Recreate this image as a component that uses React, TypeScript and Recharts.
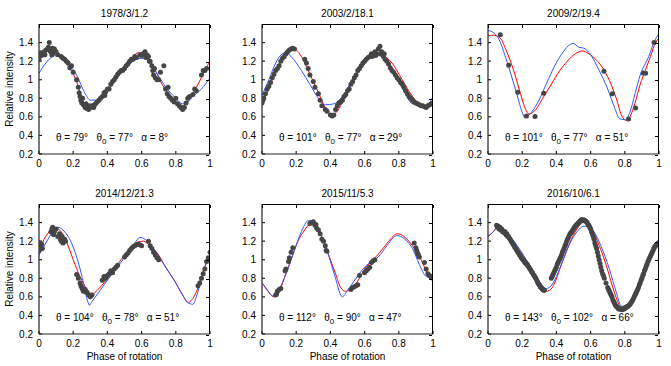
import { ComposedChart, Line, Scatter, XAxis, YAxis } from "recharts";

type Pt = [number, number];

const xTicks = [0, 0.2, 0.4, 0.6, 0.8, 1];
const yTicks = [0.2, 0.4, 0.6, 0.8, 1, 1.2, 1.4];

const titles = ["1978/3/1.2", "2003/2/18.1", "2009/2/19.4", "2014/12/21.3", "2015/11/5.3", "2016/10/6.1"];
const thetas = [79, 101, 101, 104, 112, 143];
const theta0s = [77, 77, 77, 78, 90, 102];
const alphas = [8, 29, 51, 51, 47, 66];

// 1978/3/1.2
const p1Dots: Pt[] = [
  [0.0, 1.22], [0.005, 1.28], [0.01, 1.29], [0.015, 1.26], [0.02, 1.28], [0.03, 1.3], [0.035, 1.27], [0.04, 1.32],
  [0.05, 1.33], [0.055, 1.35], [0.06, 1.4], [0.065, 1.31], [0.07, 1.3], [0.075, 1.27], [0.08, 1.34], [0.085, 1.29],
  [0.09, 1.33], [0.1, 1.3], [0.11, 1.27], [0.13, 1.25], [0.14, 1.23], [0.15, 1.22], [0.16, 1.2], [0.17, 1.18],
  [0.18, 1.13], [0.19, 1.15], [0.2, 1.08], [0.22, 1.0], [0.23, 0.92], [0.235, 0.86], [0.24, 0.82], [0.245, 0.78],
  [0.25, 0.75], [0.255, 0.8], [0.26, 0.73], [0.27, 0.7], [0.275, 0.74], [0.28, 0.69], [0.29, 0.68], [0.295, 0.72],
  [0.3, 0.7], [0.31, 0.72], [0.32, 0.7], [0.325, 0.73], [0.33, 0.74], [0.34, 0.76], [0.35, 0.78], [0.36, 0.8],
  [0.37, 0.82], [0.38, 0.86], [0.385, 0.83], [0.39, 0.87], [0.4, 0.9], [0.41, 0.9], [0.42, 0.95], [0.43, 0.98],
  [0.44, 1.0], [0.45, 1.03], [0.46, 1.06], [0.47, 1.08], [0.48, 1.1], [0.49, 1.1], [0.5, 1.12], [0.51, 1.15],
  [0.52, 1.17], [0.53, 1.2], [0.54, 1.22], [0.55, 1.22], [0.56, 1.25], [0.57, 1.24], [0.59, 1.27], [0.6, 1.26],
  [0.61, 1.28], [0.62, 1.3], [0.625, 1.24], [0.63, 1.27], [0.64, 1.25], [0.645, 1.2], [0.65, 1.2], [0.66, 1.15],
  [0.665, 1.1], [0.67, 1.05], [0.675, 1.12], [0.68, 1.02], [0.69, 1.0], [0.7, 1.0], [0.71, 1.08], [0.73, 1.15],
  [0.74, 0.9], [0.75, 0.85], [0.755, 0.92], [0.76, 0.82], [0.77, 0.8], [0.78, 0.78], [0.79, 0.76], [0.8, 0.8],
  [0.81, 0.74], [0.82, 0.72], [0.83, 0.7], [0.84, 0.68], [0.85, 0.7], [0.86, 0.75], [0.87, 0.8], [0.88, 0.82],
  [0.9, 0.84], [0.91, 0.9], [0.92, 0.88], [0.95, 1.05], [0.96, 1.1], [0.97, 1.1], [0.98, 1.12],
];
const p1Red: Pt[] = [
  [0, 1.24], [0.03, 1.29], [0.07, 1.32], [0.11, 1.28], [0.15, 1.2], [0.19, 1.09], [0.22, 0.98], [0.24, 0.86],
  [0.26, 0.76], [0.28, 0.71], [0.3, 0.69], [0.32, 0.7], [0.35, 0.75], [0.4, 0.9], [0.45, 1.05], [0.5, 1.15],
  [0.55, 1.25], [0.58, 1.29], [0.61, 1.28], [0.64, 1.22], [0.68, 1.1], [0.72, 0.95], [0.78, 0.8], [0.81, 0.74],
  [0.84, 0.72], [0.88, 0.8], [0.93, 0.95], [0.97, 1.1], [1, 1.2],
];
const p1Blue: Pt[] = [
  [0, 1.07], [0.04, 1.18], [0.08, 1.25], [0.1, 1.26], [0.15, 1.2], [0.22, 1.05], [0.27, 0.85], [0.3, 0.78],
  [0.33, 0.78], [0.38, 0.83], [0.43, 0.95], [0.47, 1.05], [0.52, 1.15], [0.57, 1.22], [0.6, 1.23], [0.65, 1.2],
  [0.68, 1.1], [0.73, 0.95], [0.8, 0.8], [0.84, 0.74], [0.87, 0.76], [0.9, 0.82], [0.95, 0.9], [1, 1.02],
];

// 2003/2/18.1
const p2Dots: Pt[] = [
  [0.0, 0.75], [0.005, 0.78], [0.01, 0.8], [0.02, 0.85], [0.03, 0.9], [0.04, 0.93], [0.05, 0.97], [0.06, 1.02],
  [0.07, 1.06], [0.08, 1.1], [0.09, 1.12], [0.1, 1.15], [0.11, 1.2], [0.12, 1.23], [0.13, 1.25], [0.14, 1.28],
  [0.15, 1.3], [0.16, 1.32], [0.17, 1.33], [0.18, 1.34], [0.19, 1.33], [0.25, 1.22], [0.26, 1.18], [0.27, 1.12],
  [0.28, 1.05], [0.3, 0.98], [0.31, 0.92], [0.33, 0.85], [0.34, 0.78], [0.35, 0.72], [0.37, 0.68], [0.38, 0.66],
  [0.4, 0.62], [0.41, 0.61], [0.42, 0.62], [0.43, 0.68], [0.44, 0.72], [0.45, 0.75], [0.46, 0.76], [0.47, 0.78],
  [0.48, 0.82], [0.49, 0.84], [0.5, 0.88], [0.51, 0.9], [0.52, 0.95], [0.53, 0.98], [0.54, 1.02], [0.55, 1.05],
  [0.56, 1.1], [0.57, 1.12], [0.58, 1.15], [0.59, 1.18], [0.6, 1.2], [0.61, 1.22], [0.62, 1.24], [0.63, 1.25],
  [0.64, 1.28], [0.645, 1.25], [0.65, 1.27], [0.66, 1.3], [0.665, 1.26], [0.67, 1.28], [0.68, 1.33], [0.69, 1.36],
  [0.695, 1.28], [0.7, 1.3], [0.71, 1.25], [0.715, 1.28], [0.72, 1.22], [0.73, 1.2], [0.74, 1.17], [0.75, 1.13],
  [0.76, 1.1], [0.77, 1.08], [0.78, 1.05], [0.79, 1.02], [0.8, 1.0], [0.81, 0.97], [0.82, 0.95], [0.83, 0.92],
  [0.84, 0.88], [0.85, 0.85], [0.86, 0.82], [0.87, 0.8], [0.88, 0.78], [0.89, 0.76], [0.9, 0.75], [0.91, 0.74],
  [0.92, 0.73], [0.93, 0.72], [0.94, 0.72], [0.95, 0.71], [0.96, 0.7], [0.97, 0.72], [0.98, 0.73], [0.99, 0.74], [1.0, 0.75],
];
const p2Red: Pt[] = [
  [0, 0.75], [0.04, 0.9], [0.08, 1.1], [0.13, 1.25], [0.17, 1.32], [0.19, 1.33], [0.23, 1.25], [0.27, 1.1],
  [0.32, 0.9], [0.37, 0.7], [0.41, 0.62], [0.44, 0.66], [0.48, 0.8], [0.52, 0.95], [0.57, 1.1], [0.62, 1.22],
  [0.67, 1.28], [0.7, 1.27], [0.76, 1.18], [0.82, 1.0], [0.88, 0.82], [0.93, 0.72], [0.96, 0.7], [1, 0.75],
];
const p2Blue: Pt[] = [
  [0, 0.83], [0.04, 1.0], [0.08, 1.18], [0.12, 1.28], [0.14, 1.29], [0.17, 1.25], [0.23, 1.1], [0.28, 0.95],
  [0.33, 0.8], [0.37, 0.73], [0.42, 0.74], [0.47, 0.82], [0.53, 1.0], [0.59, 1.15], [0.64, 1.25], [0.68, 1.26],
  [0.73, 1.2], [0.78, 1.05], [0.83, 0.88], [0.88, 0.74], [0.93, 0.73], [0.96, 0.72], [1, 0.82],
];

// 2009/2/19.4
const p3Dots: Pt[] = [
  [0.072, 1.485], [0.121, 1.157], [0.174, 0.865], [0.225, 0.609], [0.275, 0.605], [0.326, 0.855], [0.678, 1.092],
  [0.727, 0.85], [0.822, 0.577], [0.863, 0.695], [0.908, 1.073], [0.922, 1.07], [0.971, 1.4],
];
const p3Red: Pt[] = [
  [0, 1.47], [0.03, 1.48], [0.07, 1.45], [0.11, 1.3], [0.15, 1.1], [0.19, 0.85], [0.22, 0.68], [0.24, 0.63],
  [0.28, 0.68], [0.32, 0.8], [0.37, 0.95], [0.42, 1.1], [0.45, 1.17], [0.49, 1.25], [0.53, 1.3], [0.55, 1.31],
  [0.59, 1.28], [0.63, 1.22], [0.68, 1.1], [0.72, 0.95], [0.75, 0.8], [0.78, 0.62], [0.81, 0.56], [0.83, 0.6],
  [0.86, 0.75], [0.89, 0.95], [0.92, 1.1], [0.95, 1.25], [0.98, 1.4], [1, 1.45],
];
const p3Blue: Pt[] = [
  [0, 1.53], [0.02, 1.52], [0.06, 1.45], [0.11, 1.2], [0.16, 0.9], [0.2, 0.65], [0.215, 0.59], [0.24, 0.62],
  [0.29, 0.75], [0.34, 0.95], [0.39, 1.15], [0.44, 1.3], [0.48, 1.38], [0.5, 1.39], [0.53, 1.35], [0.56, 1.34],
  [0.6, 1.27], [0.65, 1.1], [0.7, 0.9], [0.74, 0.7], [0.77, 0.58], [0.8, 0.57], [0.83, 0.65], [0.86, 0.85],
  [0.89, 1.05], [0.94, 1.25], [0.97, 1.4], [1, 1.5],
];

// 2014/12/21.3
const p4Dots: Pt[] = [
  [0.0, 1.1], [0.005, 1.18], [0.01, 1.15], [0.015, 1.17], [0.02, 1.12], [0.07, 1.3], [0.075, 1.33], [0.08, 1.35],
  [0.085, 1.27], [0.09, 1.3], [0.1, 1.33], [0.11, 1.25], [0.12, 1.28], [0.125, 1.22], [0.13, 1.2], [0.135, 1.25],
  [0.14, 1.18], [0.15, 1.22], [0.155, 1.2], [0.22, 0.84], [0.23, 0.8], [0.24, 0.75], [0.245, 0.72], [0.25, 0.7],
  [0.255, 0.68], [0.26, 0.66], [0.27, 0.68], [0.275, 0.65], [0.28, 0.65], [0.29, 0.62], [0.3, 0.6], [0.31, 0.62],
  [0.37, 0.78], [0.38, 0.82], [0.39, 0.8], [0.4, 0.83], [0.41, 0.85], [0.42, 0.88], [0.43, 0.86], [0.44, 0.9],
  [0.45, 0.92], [0.46, 0.94], [0.5, 1.03], [0.51, 1.05], [0.52, 1.07], [0.53, 1.1], [0.54, 1.12], [0.55, 1.14],
  [0.56, 1.15], [0.57, 1.16], [0.58, 1.17], [0.59, 1.16], [0.6, 1.15], [0.64, 1.2], [0.65, 1.15], [0.66, 1.12],
  [0.67, 1.08], [0.68, 1.05], [0.69, 1.02], [0.7, 1.0], [0.93, 0.72], [0.94, 0.75], [0.95, 0.8], [0.96, 0.85],
  [0.97, 0.9], [0.98, 0.98], [0.99, 1.02], [1.0, 1.08],
];
const p4Red: Pt[] = [
  [0, 1.1], [0.03, 1.22], [0.07, 1.32], [0.1, 1.34], [0.13, 1.3], [0.17, 1.15], [0.21, 0.95], [0.25, 0.78],
  [0.29, 0.66], [0.31, 0.63], [0.34, 0.67], [0.38, 0.75], [0.42, 0.85], [0.46, 0.95], [0.5, 1.05], [0.54, 1.13],
  [0.58, 1.19], [0.61, 1.2], [0.65, 1.15], [0.7, 1.05], [0.74, 0.92], [0.79, 0.78], [0.84, 0.62], [0.87, 0.54],
  [0.89, 0.56], [0.93, 0.7], [0.96, 0.88], [1, 1.05],
];
const p4Blue: Pt[] = [
  [0, 1.05], [0.04, 1.18], [0.08, 1.3], [0.11, 1.35], [0.14, 1.32], [0.19, 1.18], [0.23, 0.97], [0.26, 0.75],
  [0.285, 0.55], [0.295, 0.51], [0.31, 0.55], [0.35, 0.65], [0.4, 0.78], [0.45, 0.9], [0.51, 1.05], [0.56, 1.18],
  [0.59, 1.24], [0.62, 1.22], [0.67, 1.12], [0.73, 0.95], [0.79, 0.78], [0.84, 0.62], [0.87, 0.54], [0.9, 0.52],
  [0.92, 0.6], [0.95, 0.8], [0.99, 1.0], [1, 1.02],
];

// 2015/11/5.3
const p5Dots: Pt[] = [
  [0.08, 0.62], [0.085, 0.63], [0.09, 0.66], [0.1, 0.68], [0.11, 0.69], [0.135, 0.88], [0.14, 0.9], [0.155, 0.98],
  [0.16, 1.02], [0.17, 1.08], [0.18, 1.13], [0.28, 1.39], [0.29, 1.4], [0.3, 1.41], [0.31, 1.37], [0.315, 1.38],
  [0.32, 1.34], [0.33, 1.32], [0.34, 1.28], [0.35, 1.22], [0.36, 1.2], [0.37, 1.15], [0.375, 1.1], [0.38, 1.09],
  [0.52, 0.68], [0.53, 0.7], [0.54, 0.71], [0.55, 0.72], [0.56, 0.73], [0.57, 0.83], [0.6, 0.86], [0.61, 0.88],
  [0.62, 0.9], [0.63, 0.92], [0.64, 0.97], [0.65, 0.99], [0.66, 1.0], [0.89, 1.18], [0.9, 1.13], [0.905, 1.1],
  [0.91, 1.07], [0.915, 1.05], [0.92, 1.03], [0.95, 0.97], [0.96, 0.9], [0.97, 0.85], [0.98, 0.83], [0.99, 0.81], [1.0, 0.8],
];
const p5Red: Pt[] = [
  [0, 0.75], [0.04, 0.65], [0.07, 0.6], [0.1, 0.65], [0.13, 0.8], [0.17, 1.0], [0.21, 1.2], [0.25, 1.32],
  [0.28, 1.38], [0.31, 1.36], [0.35, 1.25], [0.39, 1.05], [0.43, 0.85], [0.46, 0.7], [0.49, 0.66], [0.53, 0.7],
  [0.57, 0.8], [0.6, 0.9], [0.64, 0.98], [0.68, 1.06], [0.72, 1.15], [0.76, 1.24], [0.79, 1.28], [0.83, 1.25],
  [0.88, 1.15], [0.93, 1.0], [0.97, 0.85], [1, 0.8],
];
const p5Blue: Pt[] = [
  [0, 0.75], [0.03, 0.68], [0.06, 0.61], [0.09, 0.65], [0.13, 0.8], [0.18, 1.05], [0.23, 1.3], [0.27, 1.42],
  [0.29, 1.42], [0.33, 1.32], [0.38, 1.1], [0.43, 0.8], [0.46, 0.62], [0.47, 0.6], [0.5, 0.67], [0.55, 0.8],
  [0.59, 0.9], [0.63, 0.97], [0.68, 1.03], [0.73, 1.15], [0.77, 1.24], [0.79, 1.26], [0.83, 1.23], [0.88, 1.12],
  [0.92, 0.95], [0.96, 0.82], [1, 0.8],
];

// 2016/10/6.1
const p6Dots: Pt[] = [
  [0.05, 1.37], [0.055, 1.35], [0.06, 1.36], [0.065, 1.33], [0.07, 1.35], [0.075, 1.32], [0.08, 1.33], [0.085, 1.3],
  [0.09, 1.31], [0.095, 1.29], [0.1, 1.3], [0.105, 1.27], [0.11, 1.28], [0.115, 1.25], [0.12, 1.25], [0.125, 1.23],
  [0.13, 1.22], [0.135, 1.2], [0.14, 1.19], [0.145, 1.17], [0.15, 1.16], [0.155, 1.14], [0.16, 1.13], [0.165, 1.11],
  [0.17, 1.1], [0.175, 1.08], [0.18, 1.07], [0.185, 1.05], [0.19, 1.04], [0.195, 1.02], [0.2, 1.01], [0.205, 1.0],
  [0.21, 0.99], [0.215, 0.97], [0.22, 0.97], [0.225, 0.95], [0.23, 0.95], [0.235, 0.93], [0.24, 0.92], [0.245, 0.9],
  [0.25, 0.89], [0.255, 0.87], [0.26, 0.86], [0.265, 0.84], [0.27, 0.83], [0.275, 0.81], [0.28, 0.8], [0.285, 0.78],
  [0.29, 0.76], [0.295, 0.74], [0.3, 0.73], [0.305, 0.71], [0.31, 0.7], [0.315, 0.69], [0.32, 0.68], [0.325, 0.67],
  [0.33, 0.67], [0.37, 0.8], [0.375, 0.82], [0.38, 0.84], [0.385, 0.86], [0.39, 0.88], [0.395, 0.9], [0.4, 0.92],
  [0.405, 0.95], [0.41, 0.97], [0.415, 0.99], [0.42, 1.01], [0.425, 1.03], [0.43, 1.05], [0.435, 1.08], [0.44, 1.1],
  [0.445, 1.12], [0.45, 1.15], [0.455, 1.17], [0.46, 1.2], [0.465, 1.22], [0.47, 1.24], [0.475, 1.26], [0.48, 1.28],
  [0.485, 1.29], [0.49, 1.3], [0.495, 1.32], [0.5, 1.33], [0.505, 1.35], [0.51, 1.36], [0.515, 1.37], [0.52, 1.38],
  [0.525, 1.39], [0.53, 1.4], [0.535, 1.41], [0.54, 1.42], [0.545, 1.43], [0.55, 1.43], [0.555, 1.42], [0.56, 1.43],
  [0.565, 1.42], [0.57, 1.42], [0.575, 1.41], [0.58, 1.4], [0.585, 1.38], [0.59, 1.37], [0.595, 1.35], [0.6, 1.33],
  [0.605, 1.3], [0.61, 1.28], [0.615, 1.25], [0.62, 1.22], [0.625, 1.18], [0.63, 1.15], [0.635, 1.12], [0.64, 1.08],
  [0.645, 1.04], [0.65, 1.0], [0.655, 0.96], [0.66, 0.92], [0.665, 0.88], [0.67, 0.85], [0.675, 0.83], [0.68, 0.8],
  [0.69, 0.75], [0.7, 0.7], [0.705, 0.68], [0.71, 0.66], [0.715, 0.64], [0.72, 0.62], [0.725, 0.6], [0.73, 0.57],
  [0.735, 0.55], [0.74, 0.53], [0.745, 0.51], [0.75, 0.5], [0.755, 0.49], [0.76, 0.48], [0.765, 0.47], [0.77, 0.47],
  [0.775, 0.47], [0.78, 0.47], [0.785, 0.46], [0.79, 0.47], [0.795, 0.47], [0.8, 0.48], [0.805, 0.48], [0.81, 0.49],
  [0.815, 0.5], [0.82, 0.5], [0.825, 0.51], [0.83, 0.52], [0.835, 0.53], [0.84, 0.55], [0.845, 0.56], [0.85, 0.58],
  [0.855, 0.6], [0.86, 0.62], [0.865, 0.64], [0.87, 0.66], [0.875, 0.68], [0.88, 0.7], [0.885, 0.73], [0.89, 0.75],
  [0.895, 0.78], [0.9, 0.8], [0.905, 0.83], [0.91, 0.85], [0.915, 0.88], [0.92, 0.9], [0.925, 0.93], [0.93, 0.95],
  [0.935, 0.98], [0.94, 1.0], [0.945, 1.02], [0.95, 1.04], [0.955, 1.06], [0.96, 1.08], [0.965, 1.1], [0.97, 1.12],
  [0.975, 1.14], [0.98, 1.15], [0.985, 1.16], [0.99, 1.17],
];
const p6Red: Pt[] = [
  [0, 1.25], [0.03, 1.3], [0.05, 1.34], [0.08, 1.32], [0.12, 1.25], [0.18, 1.1], [0.23, 0.97], [0.27, 0.85],
  [0.31, 0.72], [0.34, 0.66], [0.36, 0.67], [0.39, 0.75], [0.42, 0.9], [0.46, 1.1], [0.51, 1.3], [0.55, 1.4],
  [0.57, 1.42], [0.6, 1.37], [0.64, 1.2], [0.69, 0.95], [0.73, 0.7], [0.77, 0.5], [0.79, 0.45], [0.82, 0.48],
  [0.86, 0.6], [0.9, 0.8], [0.94, 1.0], [0.97, 1.15], [1, 1.22],
];
const p6Blue: Pt[] = [
  [0, 1.25], [0.03, 1.3], [0.06, 1.35], [0.09, 1.33], [0.13, 1.25], [0.19, 1.1], [0.24, 0.95], [0.28, 0.82],
  [0.32, 0.72], [0.34, 0.69], [0.37, 0.72], [0.4, 0.82], [0.44, 1.0], [0.48, 1.18], [0.52, 1.3], [0.56, 1.36],
  [0.58, 1.36], [0.62, 1.3], [0.66, 1.15], [0.71, 0.9], [0.75, 0.65], [0.78, 0.5], [0.8, 0.5], [0.82, 0.52],
  [0.86, 0.62], [0.9, 0.8], [0.94, 1.0], [0.97, 1.15], [1, 1.22],
];

const dotsList = [p1Dots, p2Dots, p3Dots, p4Dots, p5Dots, p6Dots];
const redList = [p1Red, p2Red, p3Red, p4Red, p5Red, p6Red];
const blueList = [p1Blue, p2Blue, p3Blue, p4Blue, p5Blue, p6Blue];

const X_MIN = 0;
const X_MAX = 1;
const Y_MIN = 0.2;
const Y_MAX = 1.6;

const plotLefts = [39, 262, 488];
const plotTops = [24, 204];
const PW = 171;
const PH = 130;
const YW = 35;
const MT = 5;
const TICK = 3;

const toRows = (pts: Pt[]) => pts.map(([x, y]) => ({ x, y }));
const fmt = (v: number) => String(v);

const dotShape = (props: any) => <circle cx={props.cx} cy={props.cy} r={2.5} fill="#454545" />;

const tickStyle = { fontSize: 10, fill: "#000" };

// top and right edges of the box with inward ticks (matlab-style frame)
function Frame({ left, top }: { left: number; top: number }) {
  const px = (v: number) => ((v - X_MIN) / (X_MAX - X_MIN)) * PW;
  const py = (v: number) => PH - ((v - Y_MIN) / (Y_MAX - Y_MIN)) * PH;
  return (
    <div
      style={{
        position: "absolute", left, top, width: PW, height: PH, boxSizing: "border-box", zIndex: 10,
        borderTop: "1px solid #000", borderRight: "1px solid #000", pointerEvents: "none",
      }}
    >
      {xTicks.map((t) => (
        <div key={"tx" + t} style={{ position: "absolute", left: px(t) - 0.5, top: 0, width: 1, height: TICK, background: "#000" }} />
      ))}
      {yTicks.map((t) => (
        <div key={"ty" + t} style={{ position: "absolute", right: 0, top: py(t) - 0.5, width: TICK, height: 1, background: "#000" }} />
      ))}
    </div>
  );
}

function Panel({ i }: { i: number }) {
  const col = i % 3;
  const row = Math.floor(i / 3);
  const L = plotLefts[col];
  const T = plotTops[row];
  return (
    <>
      <div
        style={{
          position: "absolute", left: L + PW / 2, top: T - 16, transform: "translateX(-50%)",
          lineHeight: "12px", whiteSpace: "nowrap",
        }}
      >
        {titles[i]}
      </div>
      <div style={{ position: "absolute", left: L - YW, top: T - MT, zIndex: 1 }}>
        <ComposedChart width={YW + PW + 4} height={MT + PH + 25} margin={{ top: MT, right: 4, bottom: 0, left: 0 }}>
          <XAxis
            dataKey="x" type="number" domain={[X_MIN, X_MAX]} ticks={xTicks} interval={0} tickFormatter={fmt}
            tickSize={-TICK} tickMargin={9} height={25} stroke="#222" strokeWidth={1.2} tick={tickStyle} allowDataOverflow
          />
          <YAxis
            dataKey="y" type="number" domain={[Y_MIN, Y_MAX]} ticks={yTicks} interval={0} tickFormatter={fmt}
            tickSize={-TICK} tickMargin={9} width={YW} stroke="#222" strokeWidth={1.2} tick={tickStyle} allowDataOverflow
          />
          <Line data={toRows(redList[i])} dataKey="y" type="monotone" stroke="#ff0000" strokeWidth={1} dot={false} isAnimationActive={false} />
          <Line data={toRows(blueList[i])} dataKey="y" type="monotone" stroke="#3355ff" strokeWidth={1} dot={false} isAnimationActive={false} />
          <Scatter data={toRows(dotsList[i])} dataKey="y" shape={dotShape} isAnimationActive={false} />
        </ComposedChart>
      </div>
      <Frame left={L} top={T} />
      <div
        style={{
          position: "absolute", left: L + 17, top: T + PH - 22, lineHeight: "12px", whiteSpace: "pre", zIndex: 11,
        }}
      >
        {"\u03b8 = " + thetas[i] + "\u00b0   \u03b8"}
        <sub style={{ fontSize: 8, verticalAlign: "-3px" }}>0</sub>
        {" = " + theta0s[i] + "\u00b0   \u03b1 = " + alphas[i] + "\u00b0"}
      </div>
      {col === 0 && (
        <div
          style={{
            position: "absolute", left: 10, top: T + PH / 2, transform: "translate(-50%, -50%) rotate(-90deg)",
            lineHeight: "12px", whiteSpace: "nowrap",
          }}
        >
          Relative intensity
        </div>
      )}
      {row === 1 && (
        <div
          style={{
            position: "absolute", left: L + PW / 2, top: T + PH + 17, transform: "translateX(-50%)",
            lineHeight: "12px", whiteSpace: "nowrap",
          }}
        >
          Phase of rotation
        </div>
      )}
    </>
  );
}

export default function App() {
  return (
    <div
      style={{
        position: "absolute", left: 0, top: 0, width: 671, height: 366, background: "#fff",
        fontFamily: "'Liberation Sans', Arial, sans-serif", fontSize: 10, color: "#000",
      }}
    >
      {[0, 1, 2, 3, 4, 5].map((i) => (
        <Panel key={i} i={i} />
      ))}
    </div>
  );
}
